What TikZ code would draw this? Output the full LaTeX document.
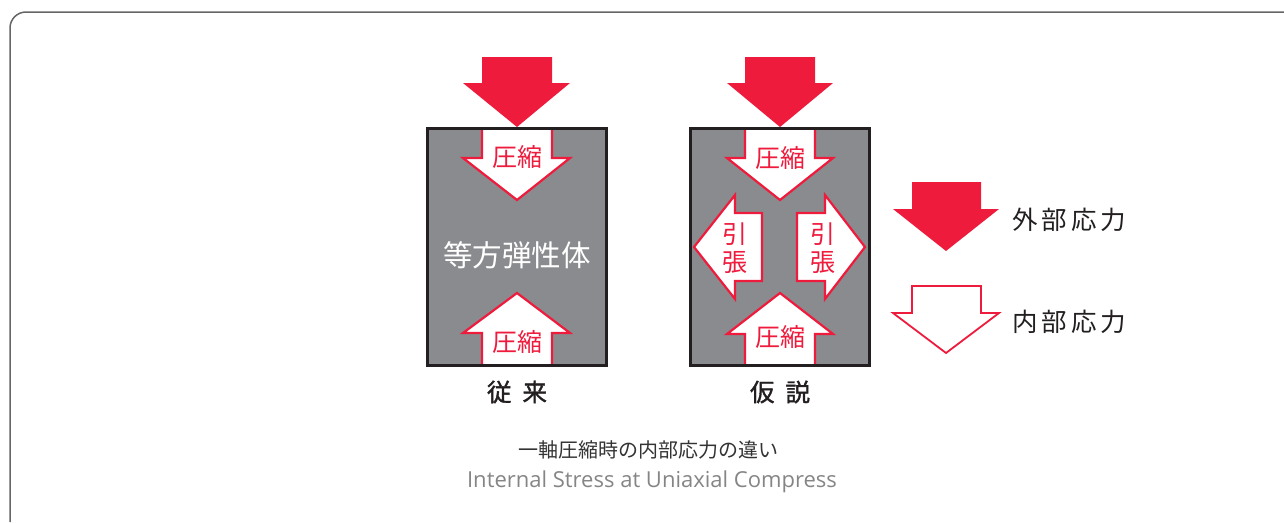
\documentclass[tikz,border=0pt]{standalone}
\usepackage{fontspec}
\newfontfamily\jp{Noto Sans CJK JP}
\newfontfamily\jpb{Noto Sans CJK JP}[FakeBold=1.5]
\newfontfamily\jpls{Noto Sans CJK JP}[LetterSpace=16]
\newfontfamily\en{Open Sans}
\definecolor{myred}{HTML}{EE1B3D}
\definecolor{boxgray}{HTML}{8A8B8E}
\definecolor{boxline}{HTML}{231F20}
\definecolor{framecol}{HTML}{666666}
\definecolor{captxt}{HTML}{333333}
\definecolor{entxt}{HTML}{858585}
\tikzset{
  extarrow/.style={fill=myred, draw=none},
  intarrow/.style={fill=white, draw=myred, line width=2.2pt, line join=miter},
  bodybox/.style={fill=boxgray},
  bodyborder/.style={draw=boxline, line width=3pt},
  redlabel/.style={text=myred, font=\jp\fontsize{25}{27}\selectfont, inner sep=0pt, align=center},
  whitelabel/.style={text=white, font=\jp\fontsize{29.5}{31}\selectfont, inner sep=0pt},
  namelabel/.style={text=boxline, font=\jpb\fontsize{24.5}{26}\selectfont, inner sep=0pt},
  legendlabel/.style={text=boxline, font=\jpls\fontsize{25.5}{27}\selectfont, inner sep=0pt, anchor=west},
}
\begin{document}
\begin{tikzpicture}[x=1pt,y=-1pt]
\useasboundingbox (0,0) rectangle (1284,522);
% frame
\draw[framecol, line width=1.5pt, rounded corners=16pt] (10,522) -- (10,12) -- (1284,12);

% ===== left body =====
\fill[bodybox] (427,128) rectangle (606,365);
\fill[extarrow] (482,57) -- (552,57) -- (552,83) -- (570,83) -- (517,127) -- (463,83) -- (482,83) -- cycle;
\draw[intarrow] (482,128) -- (482,158) -- (463,158) -- (517,200) -- (570,158) -- (552,158) -- (552,128);
\draw[intarrow] (482,365) -- (482,333) -- (463,333) -- (517,293) -- (570,333) -- (552,333) -- (552,365);
\draw[bodyborder] (427,128) rectangle (606,365);
\node[redlabel] (lt) at (517,157) {圧縮};
\node[redlabel] (lb) at (517,342) {圧縮};
\node[whitelabel] (iso) at (517,255) {等方弾性体};
\node[namelabel] (conv) at (517,392) {従\hspace{0.45em}来};

% ===== right body =====
\fill[bodybox] (690,128) rectangle (869,365);
\fill[extarrow] (745,57) -- (815,57) -- (815,83) -- (833,83) -- (780,127) -- (727,83) -- (745,83) -- cycle;
\draw[intarrow] (745,128) -- (745,158) -- (727,158) -- (780,200) -- (833,158) -- (815,158) -- (815,128);
\draw[intarrow] (745,365) -- (745,334) -- (727,334) -- (780,293) -- (833,334) -- (815,334) -- (815,365);
\draw[intarrow] (762,213) -- (735,213) -- (735,195) -- (694,247) -- (735,299) -- (735,281) -- (762,281) -- cycle;
\draw[intarrow] (797,213) -- (825,213) -- (825,195) -- (865,247) -- (825,299) -- (825,281) -- (797,281) -- cycle;
\draw[bodyborder] (690,128) rectangle (869,365);
\node[redlabel] (rt) at (780,158) {圧縮};
\node[redlabel] (rb) at (780,337) {圧縮};
\node[redlabel, text width=26pt] (rl) at (735,248) {引\\[1pt]張};
\node[redlabel, text width=26pt] (rr) at (823,248) {引\\[1pt]張};
\node[namelabel] (hyp) at (780,392) {仮\hspace{0.45em}説};

% ===== legend =====
\fill[extarrow] (912,182) -- (981,182) -- (981,209) -- (999,209) -- (946,251) -- (893,209) -- (912,209) -- cycle;
\draw[intarrow, line width=1.8pt] (912,286) -- (981,286) -- (981,313) -- (999,313) -- (946,353) -- (893,313) -- (912,313) -- cycle;
\node[legendlabel] (ext) at (1012,220) {外部応力};
\node[legendlabel] (int) at (1012,322) {内部応力};

% ===== caption =====
\node[text=captxt, font=\jp\fontsize{20}{22}\selectfont, inner sep=0pt] (capjp) at (648,450) {一軸圧縮時の内部応力の違い};
\node[text=entxt, font=\en\fontsize{22}{24}\selectfont, inner sep=0pt] (capen) at (652,482) {Internal Stress at Uniaxial Compress};
\end{tikzpicture}
\end{document}
